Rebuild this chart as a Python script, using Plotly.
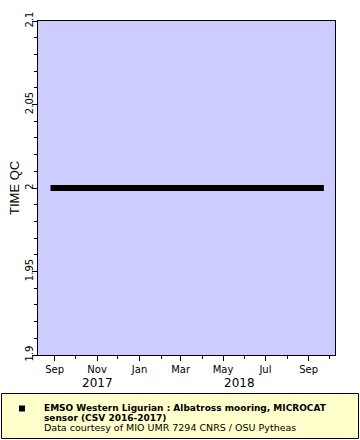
import plotly.graph_objects as go

# ---- data ----
dates = ["2017-08-26", "2018-09-23"]
qc_values = [2, 2]
year_labels = ["2017", "2018"]
year_positions = ["2017-11-01", "2018-05-25"]
legend_lines = [
    "<b>EMSO Western Ligurian : Albatross mooring, MICROCAT</b>",
    "<b>sensor (CSV 2016-2017)</b>",
    "Data courtesy of MIO UMR 7294 CNRS / OSU Pytheas",
]

W, H = 360, 440
L, R, T, B = 38, 335, 21, 355
pw, ph = R - L, B - T

def px(x):
    return (x - L) / pw

def py(y):
    return (B - y) / ph

FONT = "DejaVu Sans"

fig = go.Figure()
fig.add_trace(go.Scatter(
    x=dates, y=qc_values, mode="lines",
    line=dict(color="black", width=6), showlegend=False,
))

fig.update_layout(
    width=W, height=H,
    margin=dict(l=L, r=W - R, t=T, b=H - B, autoexpand=False),
    paper_bgcolor="white", plot_bgcolor="#ccccff",
    font=dict(family=FONT, size=10, color="black"),
    showlegend=False,
)
fig.update_xaxes(
    type="date", range=["2017-08-08", "2018-10-09"],
    tick0="2017-09-01", dtick="M2", tickformat="%b",
    ticks="outside", ticklen=5, tickwidth=1, tickcolor="black",
    minor=dict(dtick="M1", ticks="outside", ticklen=3, tickcolor="black"),
    showline=True, linecolor="black", linewidth=1, mirror=True,
    showgrid=False, zeroline=False, automargin=False,
    tickfont=dict(family=FONT, size=10),
)
fig.update_yaxes(
    range=[1.9, 2.1], tick0=1.9, dtick=0.05,
    ticks="outside", ticklen=5, tickwidth=1, tickcolor="black",
    minor=dict(dtick=0.01, ticks="outside", ticklen=3, tickcolor="black"),
    showline=True, linecolor="black", linewidth=1, mirror=True,
    showgrid=False, zeroline=False, tickangle=-90, automargin=False,
    ticklabelstandoff=-5,
    tickfont=dict(family=FONT, size=10),
)

# y-axis title
fig.add_annotation(x=px(14), xref="paper", y=0.5, yref="paper",
                   text="TIME QC", textangle=-90, showarrow=False,
                   font=dict(family="Liberation Sans", size=13),
                   xanchor="center", yanchor="middle")

# year labels
for lab, pos in zip(year_labels, year_positions):
    fig.add_annotation(x=pos, xref="x", y=py(383), yref="paper",
                       text=lab, showarrow=False,
                       font=dict(family=FONT, size=12), yanchor="middle")

# legend box
fig.add_shape(type="rect", xref="paper", yref="paper",
              x0=px(1.5), x1=px(358.5), y0=py(393.5), y1=py(438.5),
              fillcolor="#ffffcc", line=dict(color="black", width=1))
fig.add_shape(type="rect", xref="paper", yref="paper",
              x0=px(19), x1=px(25), y0=py(405.5), y1=py(411.5),
              fillcolor="black", line=dict(width=0))
for i, (txt, yc, fs) in enumerate(zip(legend_lines, [408, 417.5, 428], [9, 9, 9.5])):
    fig.add_annotation(x=px(42), xref="paper", y=py(yc), yref="paper",
                       text=txt, showarrow=False, xanchor="left", yanchor="middle",
                       font=dict(family=FONT, size=fs), align="left")

fig.write_html("out.html")
